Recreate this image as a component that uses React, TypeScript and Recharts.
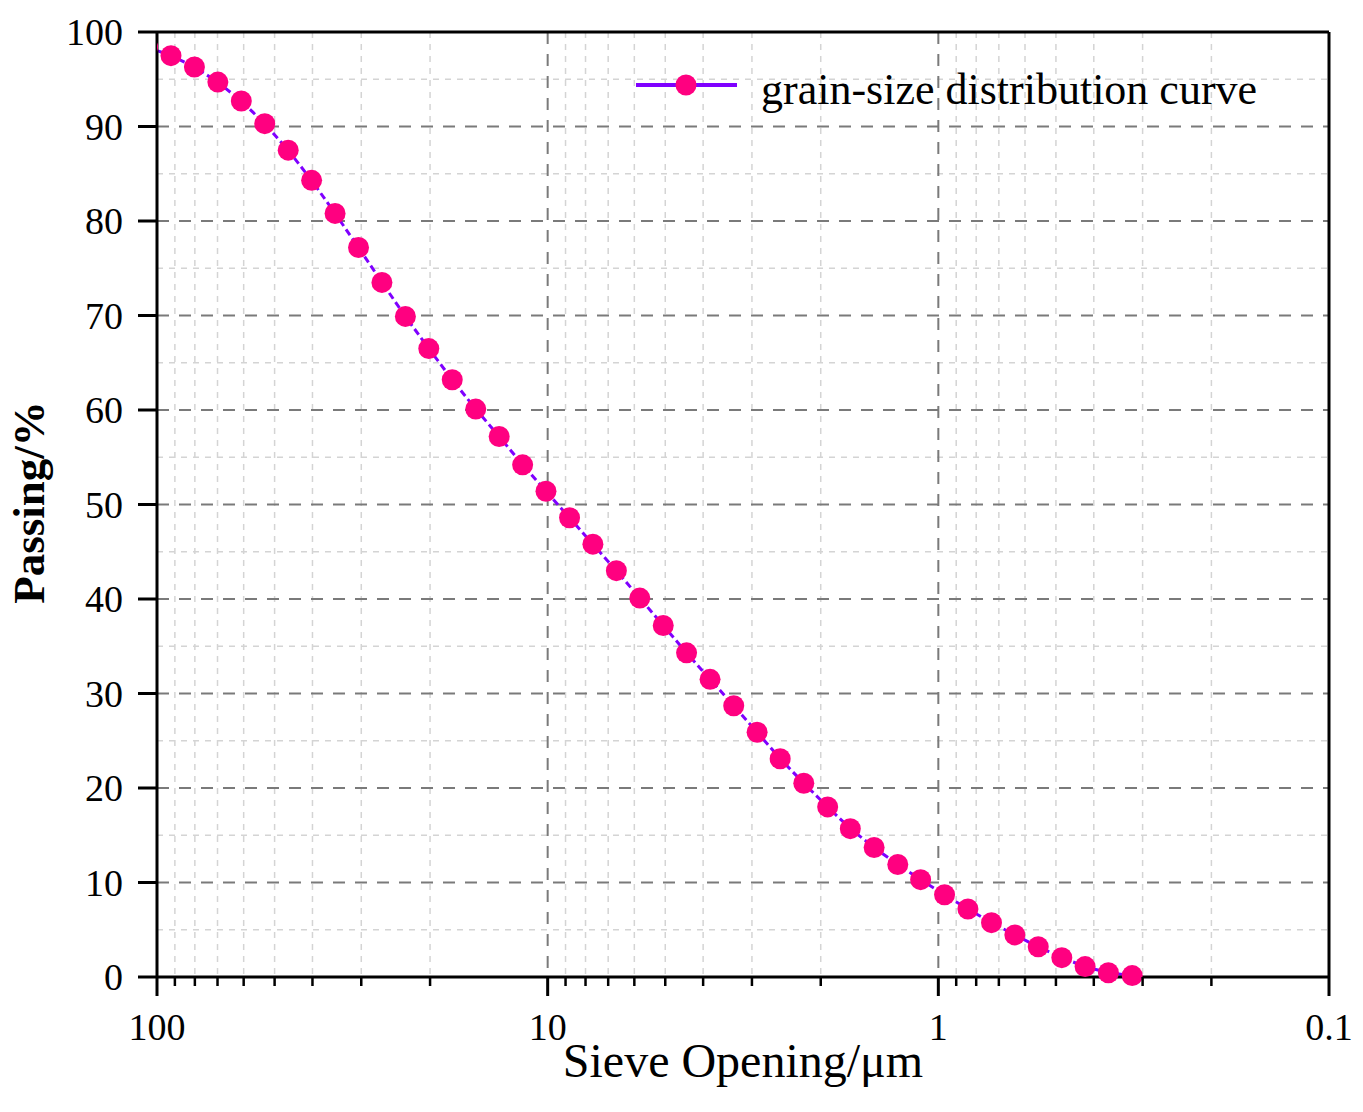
import React from 'react';
import { LineChart, Line, XAxis, YAxis, CartesianGrid, ReferenceLine, Legend } from 'recharts';

const sizeUm = [
  105.73, 92.09, 80.21, 69.86, 60.84, 52.99, 46.15, 40.2, 35.01, 30.49, 26.56,
  23.13, 20.15, 17.55, 15.28, 13.31, 11.59, 10.1, 8.79, 7.66, 6.67, 5.81,
  5.06, 4.41, 3.84, 3.34, 2.91, 2.54, 2.21, 1.92, 1.68, 1.46, 1.27,
  1.11, 0.964, 0.84, 0.731, 0.637, 0.555, 0.483, 0.421, 0.367, 0.319,
];
// Cumulative passing (%)
const passingPct = [
  98.4, 97.5, 96.3, 94.7, 92.7, 90.3, 87.5, 84.3, 80.8, 77.2, 73.5,
  69.9, 66.5, 63.2, 60.1, 57.2, 54.2, 51.4, 48.6, 45.8, 43.0, 40.1,
  37.2, 34.3, 31.5, 28.7, 25.9, 23.1, 20.5, 18.0, 15.7, 13.7, 11.9,
  10.3, 8.7, 7.2, 5.75, 4.45, 3.2, 2.05, 1.1, 0.45, 0.15,
];

const xMajorTicks = [100, 10, 1, 0.1];
const xMinorTicks = [90, 80, 70, 60, 50, 40, 30, 20, 9, 8, 7, 6, 5, 4, 3, 2, 0.9, 0.8, 0.7, 0.6, 0.5, 0.4, 0.3, 0.2];
const xMajorGrid = [10, 1];
const yTicks = [0, 10, 20, 30, 40, 50, 60, 70, 80, 90, 100];
const yMajorGrid = [10, 20, 30, 40, 50, 60, 70, 80, 90];
const yMinorGrid = [5, 15, 25, 35, 45, 55, 65, 75, 85, 95];

const seriesName = 'grain-size distribution curve';
const xTitle = 'Sieve Opening/μm';
const yTitle = 'Passing/%';

const data = sizeUm.map((s, i) => ({ size: s, passing: passingPct[i] }));
const allXTicks = [...xMajorTicks, ...xMinorTicks];

const FONT = '"Liberation Serif", "Times New Roman", serif';
const LINE_COLOR = '#7f00ff';
const DOT_COLOR = '#ff0080';

function XTick(props: any) {
  const { x, y, payload } = props;
  const v = payload.value;
  const major = xMajorTicks.includes(v);
  return (
    <g>
      <line x1={x} x2={x} y1={y} y2={y + (major ? 19 : 9)} stroke="#000" strokeWidth={major ? 3 : 2.5} />
      {major && (
        <text x={x} y={y + 63} textAnchor="middle" fontSize={38} fontFamily={FONT} fill="#000">
          {String(v)}
        </text>
      )}
    </g>
  );
}

function XTitle(props: any) {
  const vb = props.viewBox || { x: 157, y: 977, width: 1172, height: 135 };
  return (
    <text x={vb.x + vb.width / 2} y={vb.y + 100} textAnchor="middle" fontSize={48} fontFamily={FONT} fill="#000">
      {xTitle}
    </text>
  );
}

function YTitle(props: any) {
  const vb = props.viewBox || { x: 0, y: 32, width: 157, height: 945 };
  const cx = 44;
  const cy = vb.y + vb.height / 2 - 2;
  return (
    <text
      x={cx}
      y={cy}
      textAnchor="middle"
      fontSize={45}
      fontWeight="bold"
      fontFamily={FONT}
      fill="#000"
      transform={`rotate(-90, ${cx}, ${cy})`}
    >
      {yTitle}
    </text>
  );
}

function LegendContent() {
  return (
    <svg width={660} height={70} style={{ display: 'block', overflow: 'visible' }}>
      <line x1={6} x2={107} y1={30} y2={30} stroke={LINE_COLOR} strokeWidth={4} />
      <circle cx={56} cy={30} r={10.5} fill={DOT_COLOR} />
      <text x={131} y={49} fontSize={44} fontFamily={FONT} fill="#000">
        {seriesName}
      </text>
    </svg>
  );
}

export default function App() {
  return (
    <div style={{ position: 'absolute', left: 0, top: 0, width: 1363, height: 1112, background: '#fff' }}>
      <LineChart width={1363} height={1112} data={data} margin={{ top: 32, right: 34, bottom: 0, left: 0 }}>
        <CartesianGrid
          horizontalValues={yMinorGrid}
          verticalValues={xMinorTicks}
          stroke="#d4d4d4"
          strokeWidth={1.5}
          strokeDasharray="6 6"
        />
        <CartesianGrid
          horizontalValues={yMajorGrid}
          verticalValues={xMajorGrid}
          stroke="#7a7a7a"
          strokeWidth={2}
          strokeDasharray="12 10"
        />
        <XAxis
          dataKey="size"
          type="number"
          scale="log"
          domain={[0.1, 100]}
          reversed
          allowDataOverflow
          ticks={allXTicks}
          interval={0}
          tickSize={0}
          tickMargin={0}
          tick={<XTick />}
          tickLine={false}
          axisLine={{ stroke: '#000', strokeWidth: 3 }}
          height={135}
          label={{ content: (p: any) => <XTitle {...p} /> }}
        />
        <YAxis
          type="number"
          domain={[0, 100]}
          ticks={yTicks}
          interval={0}
          width={157}
          tickSize={19}
          tickMargin={15}
          tick={{ fontSize: 38, fontFamily: FONT, fill: '#000' }}
          tickLine={{ stroke: '#000', strokeWidth: 3 }}
          axisLine={{ stroke: '#000', strokeWidth: 3 }}
          label={{ content: (p: any) => <YTitle {...p} /> }}
        />
        <ReferenceLine y={100} stroke="#000" strokeWidth={3} />
        <ReferenceLine x={0.1} stroke="#000" strokeWidth={3} />
        <Legend
          layout="vertical"
          align="center"
          verticalAlign="middle"
          content={() => <LegendContent />}
          wrapperStyle={{ left: 630, top: 55, width: 660, height: 70 }}
        />
        <Line
          type="linear"
          dataKey="passing"
          name={seriesName}
          stroke={LINE_COLOR}
          strokeWidth={3}
          strokeDasharray="7 4"
          dot={{ r: 10.5, fill: DOT_COLOR, stroke: 'none', strokeWidth: 0, strokeDasharray: '' }}
          activeDot={false}
          isAnimationActive={false}
        />
      </LineChart>
    </div>
  );
}
